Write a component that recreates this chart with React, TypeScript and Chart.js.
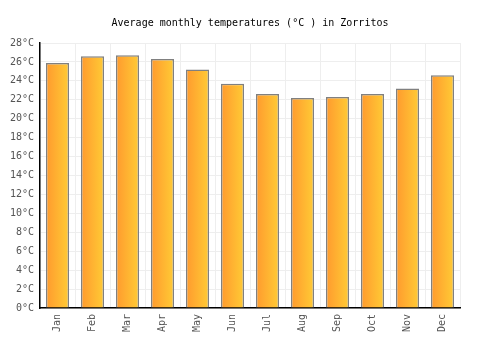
import React, { useEffect, useRef } from "react";
import { Chart, registerables } from "chart.js";

Chart.register(...registerables);

const months = ["Jan", "Feb", "Mar", "Apr", "May", "Jun", "Jul", "Aug", "Sep", "Oct", "Nov", "Dec"];
const temperatures = [25.9, 26.6, 26.7, 26.3, 25.2, 23.7, 22.6, 22.2, 22.3, 22.6, 23.2, 24.6];
const yMin = 0;
const yMax = 28;
const yStep = 2;
const titleText = "Average monthly temperatures (°C ) in Zorritos";

const FONT = "'DejaVu Sans Mono', monospace";
const BAR_PCT = 0.66;

export default function App() {
  const ref = useRef<HTMLCanvasElement | null>(null);

  useEffect(() => {
    const canvas = ref.current;
    if (!canvas) return;
    const ctx = canvas.getContext("2d")!;
    const chart = new Chart(ctx, {
      type: "bar",
      data: {
        labels: months,
        datasets: [
          {
            data: temperatures,
            backgroundColor: (c: any) => {
              const xs = c.chart.scales && c.chart.scales.x;
              if (!xs || !c.chart.chartArea || c.dataIndex === undefined) return "#FFB030";
              const x = xs.getPixelForValue(c.dataIndex);
              const w = (xs.width / months.length) * BAR_PCT;
              if (!isFinite(x) || !isFinite(w)) return "#FFB030";
              const g = c.chart.ctx.createLinearGradient(x - w / 2, 0, x + w / 2, 0);
              g.addColorStop(0, "#FF9A2E");
              g.addColorStop(1, "#FFCB35");
              return g;
            },
            borderColor: "#808080",
            borderWidth: 1.5,
            barPercentage: BAR_PCT,
            categoryPercentage: 1,
          },
        ],
      },
      options: {
        responsive: false,
        animation: false,
        devicePixelRatio: 1,
        layout: { padding: 0 },
        plugins: {
          legend: { display: false },
          tooltip: { enabled: false },
          title: {
            display: true,
            text: titleText,
            color: "#000",
            font: { family: FONT, size: 10, weight: "normal" },
            padding: { top: 17, bottom: 14 },
          },
        },
        scales: {
          x: {
            grid: { color: "#eeeeee", lineWidth: 1, offset: true, drawTicks: false },
            border: { color: "#000", width: 1.5 },
            ticks: {
              color: "#555",
              font: { family: FONT, size: 10 },
              maxRotation: 90,
              minRotation: 90,
              padding: 6,
            },
            afterFit: (s: any) => {
              s.height = 42;
            },
          },
          y: {
            min: yMin,
            max: yMax,
            grid: { color: "#eeeeee", lineWidth: 1, drawTicks: false },
            border: { color: "#000", width: 1.5 },
            ticks: {
              stepSize: yStep,
              color: "#555",
              font: { family: FONT, size: 10 },
              padding: 6,
              callback: (v: any) => v + "°C",
            },
            afterFit: (s: any) => {
              s.width = 40;
            },
          },
          yRight: {
            position: "right",
            min: yMin,
            max: yMax,
            grid: { display: false, drawTicks: false },
            border: { display: false },
            ticks: { display: false },
            afterFit: (s: any) => {
              s.width = 40;
            },
          },
        },
      },
    });
    return () => chart.destroy();
  }, []);

  return (
    <div style={{ position: "fixed", left: 0, top: 0, width: 500, height: 350, background: "#fff" }}>
      <canvas ref={ref} width={500} height={350} />
    </div>
  );
}
